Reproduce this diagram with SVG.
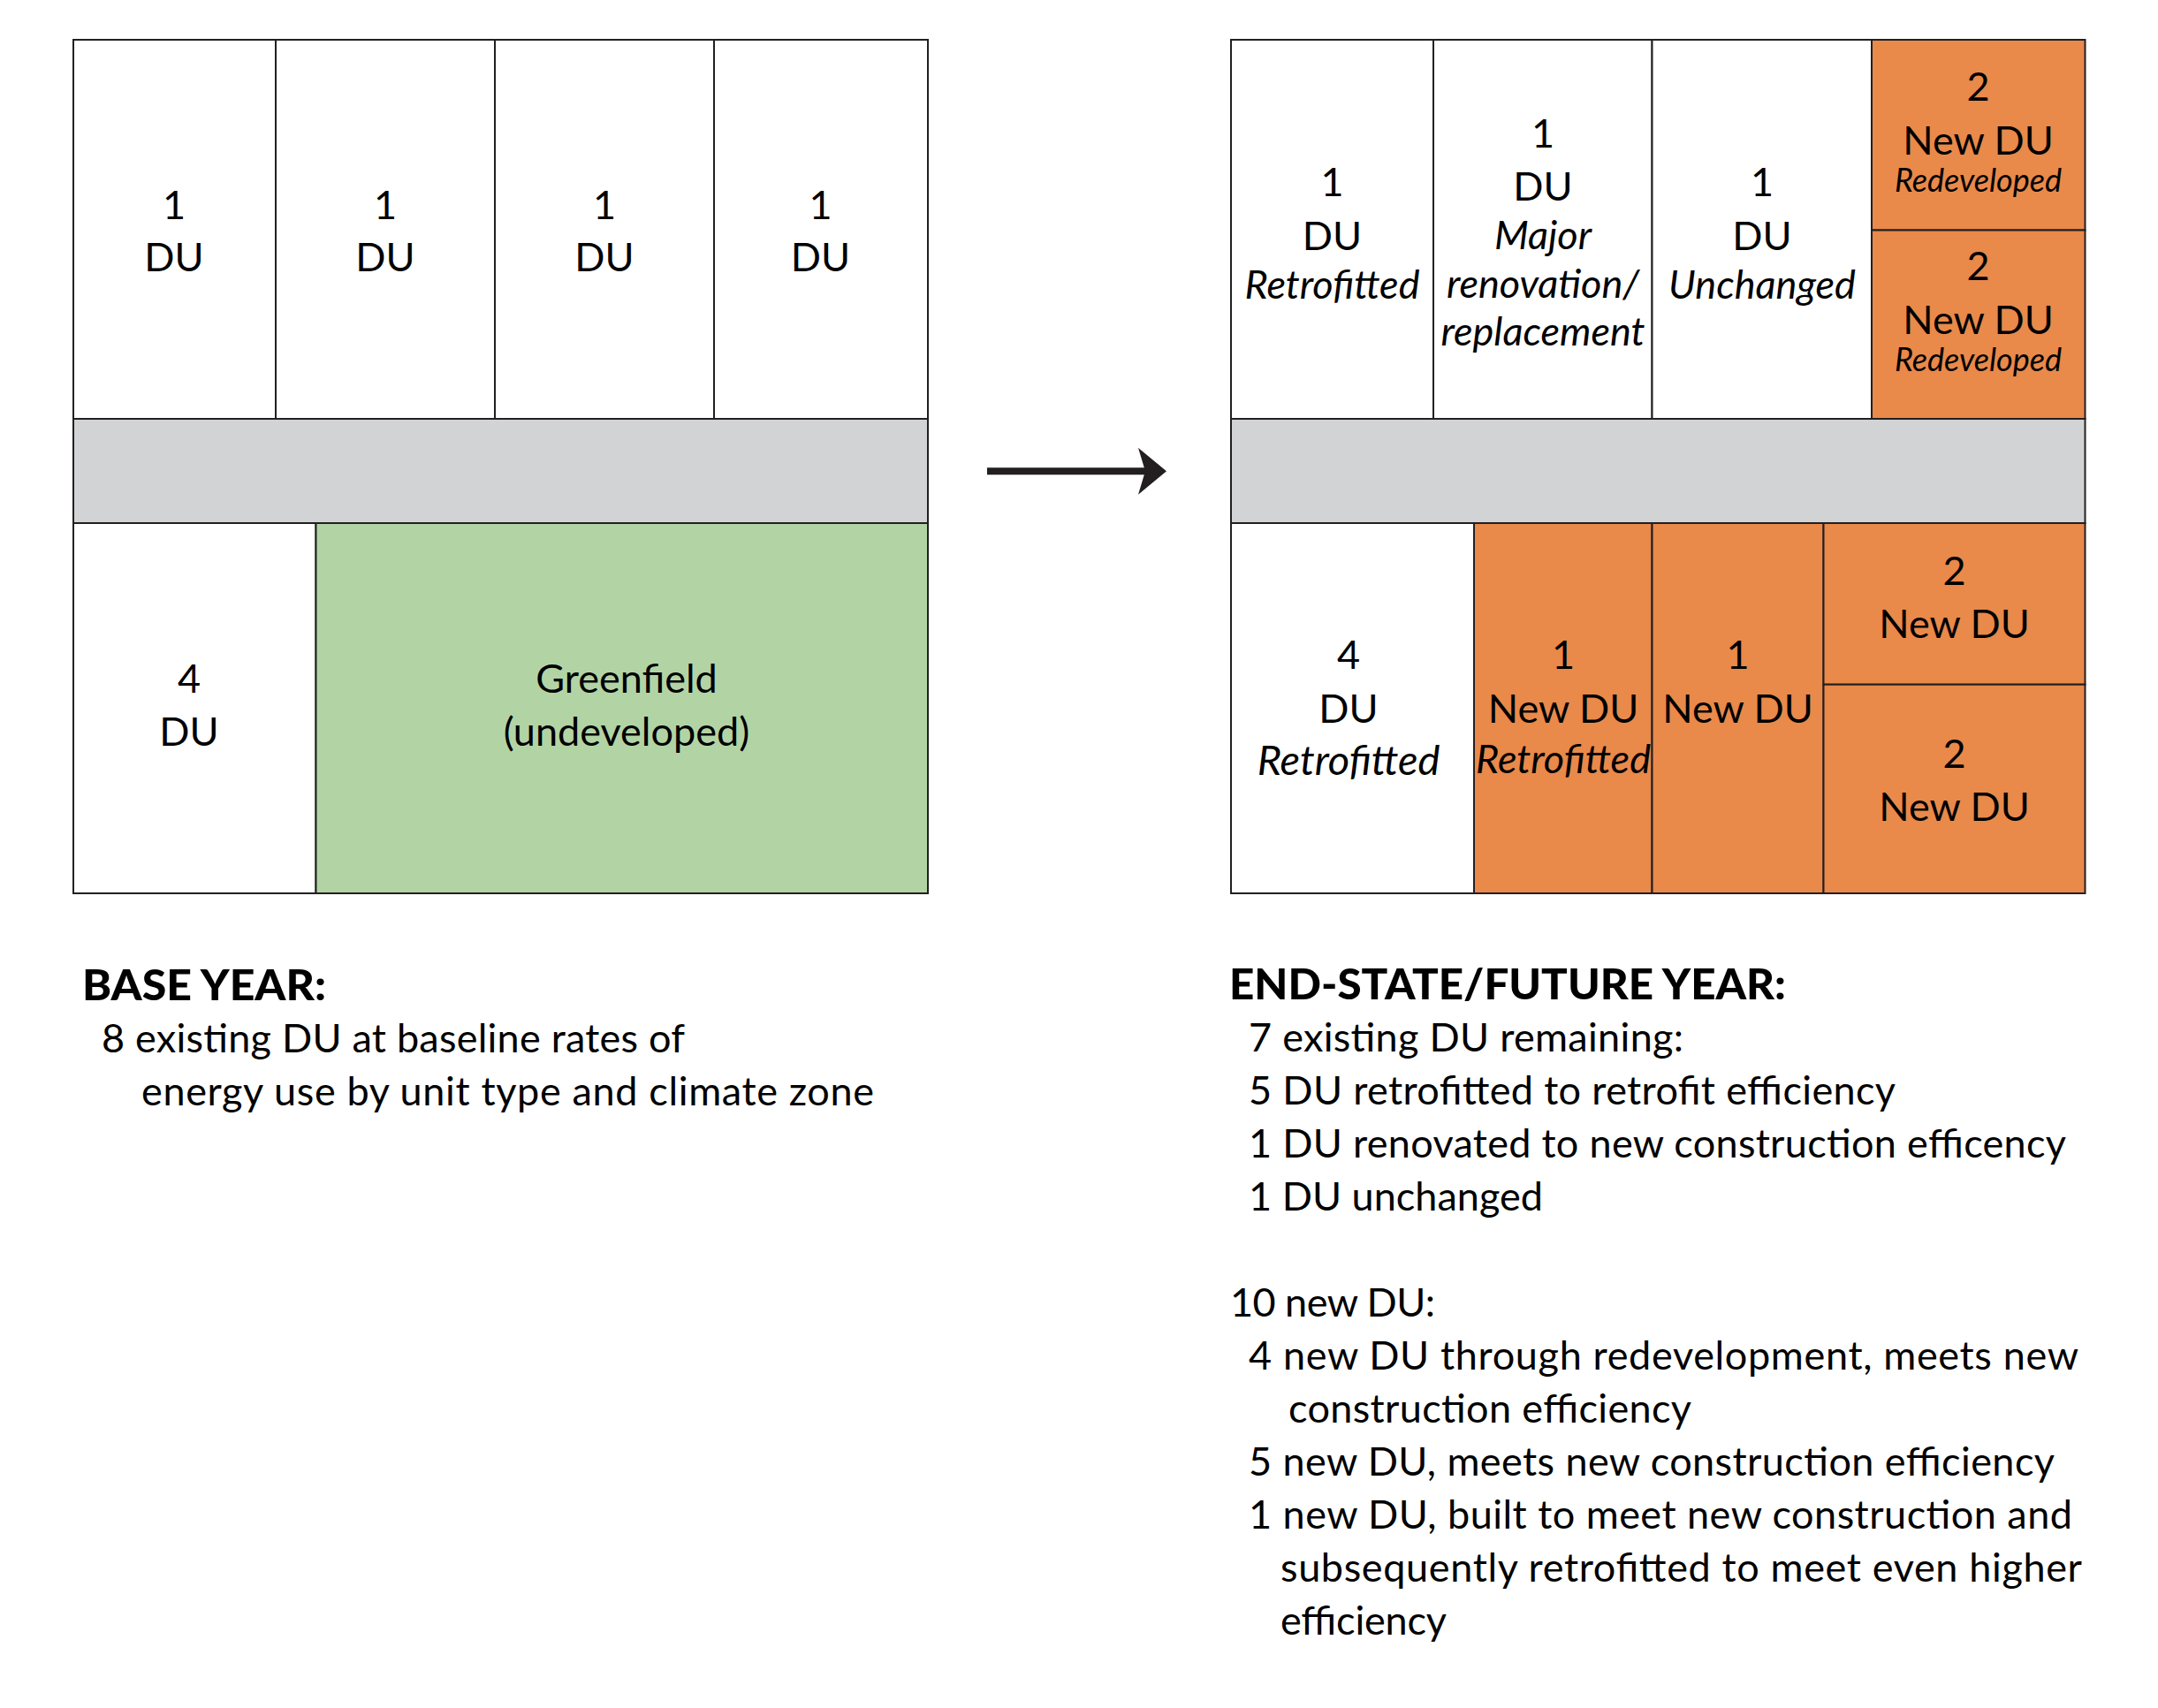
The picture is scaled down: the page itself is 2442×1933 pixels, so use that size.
<svg xmlns="http://www.w3.org/2000/svg" width="2442" height="1933" viewBox="0 0 2442 1933">
  <style>
    .cell { stroke: #231F20; stroke-width: 2; }
    .white { fill: #FFFFFF; }
    .road { fill: #D1D3D4; }
    .green { fill: #B2D4A5; }
    .orange { fill: #E9894A; }
    text { font-family: Lato, "Open Sans", "Liberation Sans", sans-serif; fill: #000000; }
    .lbl { font-size: 45px; text-anchor: middle; }
    .it { font-style: italic; }
    .sm { font-size: 36px; }
    .body { font-size: 45px; }
    .head { font-size: 47px; font-weight: 900; }
  </style>
  <defs>
    <marker id="arrowhead" viewBox="0 0 32 53" markerWidth="32" markerHeight="53" markerUnits="userSpaceOnUse" refX="12" refY="26.5" orient="auto">
      <path d="M0,0 L32,26.5 L0,53 L8,26.5 Z" fill="#231F20"/>
    </marker>
  </defs>
  <rect x="0" y="0" width="2442" height="1933" fill="#FFFFFF"/>

  <!-- BASE YEAR panel -->
  <g id="base-du-1">
    <rect class="cell white" x="83" y="45" width="229" height="429"/>
    <text class="lbl" x="197" y="248">1</text>
    <text class="lbl" x="197" y="307">DU</text>
  </g>
  <g id="base-du-2">
    <rect class="cell white" x="312" y="45" width="248" height="429"/>
    <text class="lbl" x="436" y="248">1</text>
    <text class="lbl" x="436" y="307">DU</text>
  </g>
  <g id="base-du-3">
    <rect class="cell white" x="560" y="45" width="248" height="429"/>
    <text class="lbl" x="684" y="248">1</text>
    <text class="lbl" x="684" y="307">DU</text>
  </g>
  <g id="base-du-4">
    <rect class="cell white" x="808" y="45" width="242" height="429"/>
    <text class="lbl" x="928.5" y="248">1</text>
    <text class="lbl" x="928.5" y="307">DU</text>
  </g>
  <g id="base-road">
    <rect class="cell road" x="83" y="474" width="967" height="118"/>
  </g>
  <g id="base-du-multi">
    <rect class="cell white" x="83" y="592" width="274.5" height="419"/>
    <text class="lbl" x="214" y="784">4</text>
    <text class="lbl" x="214" y="844">DU</text>
  </g>
  <g id="base-greenfield">
    <rect class="cell green" x="357.5" y="592" width="692.5" height="419"/>
    <text class="lbl" x="709" y="784">Greenfield</text>
    <text class="lbl" x="709" y="844">(undeveloped)</text>
  </g>

  <!-- END-STATE panel -->
  <g id="end-retrofitted-1">
    <rect class="cell white" x="1393" y="45" width="229" height="429"/>
    <text class="lbl" x="1507.5" y="222">1</text>
    <text class="lbl" x="1507.5" y="283">DU</text>
    <text class="lbl it" x="1507.5" y="338">Retrofitted</text>
  </g>
  <g id="end-major-renovation">
    <rect class="cell white" x="1622" y="45" width="247.5" height="429"/>
    <text class="lbl" x="1746" y="167">1</text>
    <text class="lbl" x="1746" y="227">DU</text>
    <text class="lbl it" x="1746" y="282">Major</text>
    <text class="lbl it" x="1746" y="337">renovation/</text>
    <text class="lbl it" x="1746" y="391">replacement</text>
  </g>
  <g id="end-unchanged">
    <rect class="cell white" x="1869.5" y="45" width="248.5" height="429"/>
    <text class="lbl" x="1994" y="222">1</text>
    <text class="lbl" x="1994" y="283">DU</text>
    <text class="lbl it" x="1994" y="338">Unchanged</text>
  </g>
  <g id="end-redeveloped-1">
    <rect class="cell orange" x="2118" y="45" width="241.5" height="215.5"/>
    <text class="lbl" x="2238.5" y="114">2</text>
    <text class="lbl" x="2238.5" y="175">New DU</text>
    <text class="lbl it sm" x="2238.5" y="217">Redeveloped</text>
  </g>
  <g id="end-redeveloped-2">
    <rect class="cell orange" x="2118" y="260.5" width="241.5" height="213.5"/>
    <text class="lbl" x="2238.5" y="317">2</text>
    <text class="lbl" x="2238.5" y="378">New DU</text>
    <text class="lbl it sm" x="2238.5" y="420">Redeveloped</text>
  </g>
  <g id="end-road">
    <rect class="cell road" x="1393" y="474" width="966.5" height="118"/>
  </g>
  <g id="end-retrofitted-4">
    <rect class="cell white" x="1393" y="592" width="275" height="419"/>
    <text class="lbl" x="1526" y="757">4</text>
    <text class="lbl" x="1526" y="818">DU</text>
    <text class="lbl it" x="1526" y="877" style="font-size:47px">Retrofitted</text>
  </g>
  <g id="end-new-retrofitted">
    <rect class="cell orange" x="1668" y="592" width="201.5" height="419"/>
    <text class="lbl" x="1769" y="757">1</text>
    <text class="lbl" x="1769" y="818">New DU</text>
    <text class="lbl it" x="1769" y="875">Retrofitted</text>
  </g>
  <g id="end-new-1">
    <rect class="cell orange" x="1869.5" y="592" width="194" height="419"/>
    <text class="lbl" x="1966.5" y="757">1</text>
    <text class="lbl" x="1966.5" y="818">New DU</text>
  </g>
  <g id="end-new-2a">
    <rect class="cell orange" x="2063.5" y="592" width="296" height="182.7"/>
    <text class="lbl" x="2211.5" y="662">2</text>
    <text class="lbl" x="2211.5" y="722">New DU</text>
  </g>
  <g id="end-new-2b">
    <rect class="cell orange" x="2063.5" y="774.7" width="296" height="236.3"/>
    <text class="lbl" x="2211.5" y="868.5">2</text>
    <text class="lbl" x="2211.5" y="929">New DU</text>
  </g>

  <!-- connectors -->
  <g id="connectors">
    <line x1="1117" y1="533.3" x2="1300" y2="533.3" stroke="#231F20" stroke-width="8" marker-end="url(#arrowhead)"/>
  </g>

  <!-- captions -->
  <g id="base-caption">
    <text class="head" x="93" y="1132" textLength="276" lengthAdjust="spacingAndGlyphs">BASE YEAR:</text>
    <text class="body" x="115" y="1191" textLength="660">8 existing DU at baseline rates of</text>
    <text class="body" x="160" y="1251" textLength="829">energy use by unit type and climate zone</text>
  </g>
  <g id="end-caption">
    <text class="head" x="1391" y="1131" textLength="630" lengthAdjust="spacingAndGlyphs">END-STATE/FUTURE YEAR:</text>
    <text class="body" x="1413" y="1190" textLength="492">7 existing DU remaining:</text>
    <text class="body" x="1413" y="1250" textLength="732">5 DU retrofitted to retrofit efficiency</text>
    <text class="body" x="1413" y="1310" textLength="925">1 DU renovated to new construction efficency</text>
    <text class="body" x="1413" y="1370" textLength="333">1 DU unchanged</text>
    <text class="body" x="1392" y="1490" textLength="232">10 new DU:</text>
    <text class="body" x="1413" y="1550" textLength="939">4 new DU through redevelopment, meets new</text>
    <text class="body" x="1458" y="1610" textLength="456">construction efficiency</text>
    <text class="body" x="1413" y="1670" textLength="912">5 new DU, meets new construction efficiency</text>
    <text class="body" x="1413" y="1730" textLength="932">1 new DU, built to meet new construction and</text>
    <text class="body" x="1449" y="1790" textLength="907">subsequently retrofitted to meet even higher</text>
    <text class="body" x="1449" y="1850" textLength="188">efficiency</text>
  </g>
</svg>
